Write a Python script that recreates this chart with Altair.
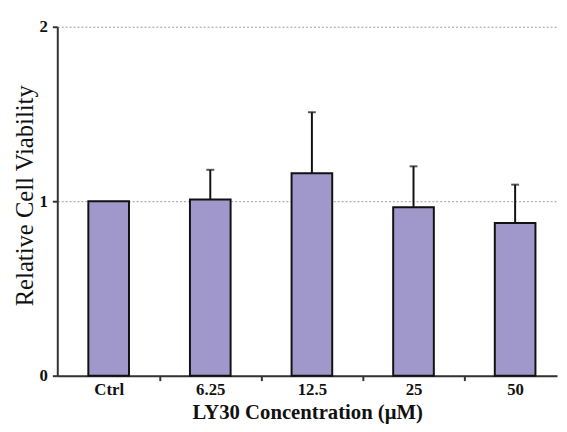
import altair as alt
import pandas as pd

categories = ["Ctrl", "6.25", "12.5", "25", "50"]
means = [1.0, 1.01, 1.16, 0.965, 0.875]
sds = [0.0, 0.17, 0.35, 0.235, 0.22]

df = pd.DataFrame({"conc": categories, "mean": means, "sd": sds})
df["upper"] = df["mean"] + df["sd"]

SERIF = "Liberation Serif"

xscale = alt.Scale(domain=categories, paddingInner=0.6, paddingOuter=0.259, align=0.59)
yscale = alt.Scale(domain=[0, 2], nice=False)

xaxis = alt.Axis(title="LY30 Concentration (\u03bcM)", labelAngle=0, ticks=True,
                 bandPosition=1, tickOffset=31, labelOffset=-31,
                 tickSize=5, tickWidth=2, tickColor="#333",
                 domainColor="#333", domainWidth=2,
                 labelFont=SERIF, labelFontSize=17, labelFontWeight="bold",
                 labelColor="#111", labelPadding=1, labelBaseline="top",
                 titleFont=SERIF, titleFontSize=21, titleFontWeight="bold",
                 titleColor="#111", titleY=43, titleBaseline="alphabetic")

yaxis = alt.Axis(title="Relative Cell Viability", values=[0, 1, 2],
                 labelExpr="datum.value",
                 grid=True, gridDash=[2, 2], gridColor="#9a9a9a", gridWidth=1,
                 tickSize=5, tickWidth=2, tickColor="#333",
                 domainColor="#333", domainWidth=2,
                 labelFont=SERIF, labelFontSize=17, labelFontWeight="bold",
                 labelColor="#111", labelPadding=5,
                 titleFont=SERIF, titleFontSize=25, titleFontWeight="normal",
                 titleColor="#111", titleX=-33, titleY=171,
                 titleBaseline="middle", titleAngle=270)

base = alt.Chart(df)

bars = base.mark_bar(color="#A098CA", stroke="#111", strokeWidth=2).encode(
    x=alt.X("conc:N", scale=xscale, sort=categories, axis=xaxis),
    y=alt.Y("mean:Q", scale=yscale, axis=yaxis),
)

errs = base.transform_filter("datum.sd > 0")

err_rule = errs.mark_rule(color="#111", strokeWidth=2).encode(
    x=alt.X("conc:N", scale=xscale, sort=categories),
    y=alt.Y("mean:Q", scale=yscale),
    y2="upper:Q",
)

err_cap = errs.mark_tick(color="#111", thickness=2, size=8).encode(
    x=alt.X("conc:N", scale=xscale, sort=categories),
    y=alt.Y("upper:Q", scale=yscale),
)

chart = alt.layer(bars, err_rule, err_cap).properties(
    width=507, height=354,
    autosize=alt.AutoSizeParams(type="none"),
    padding={"left": 50, "top": 16, "right": 2, "bottom": 46},
    background="white",
).configure_view(stroke=None)

chart.save("out.html", embed_options={"renderer": "svg", "actions": False})
